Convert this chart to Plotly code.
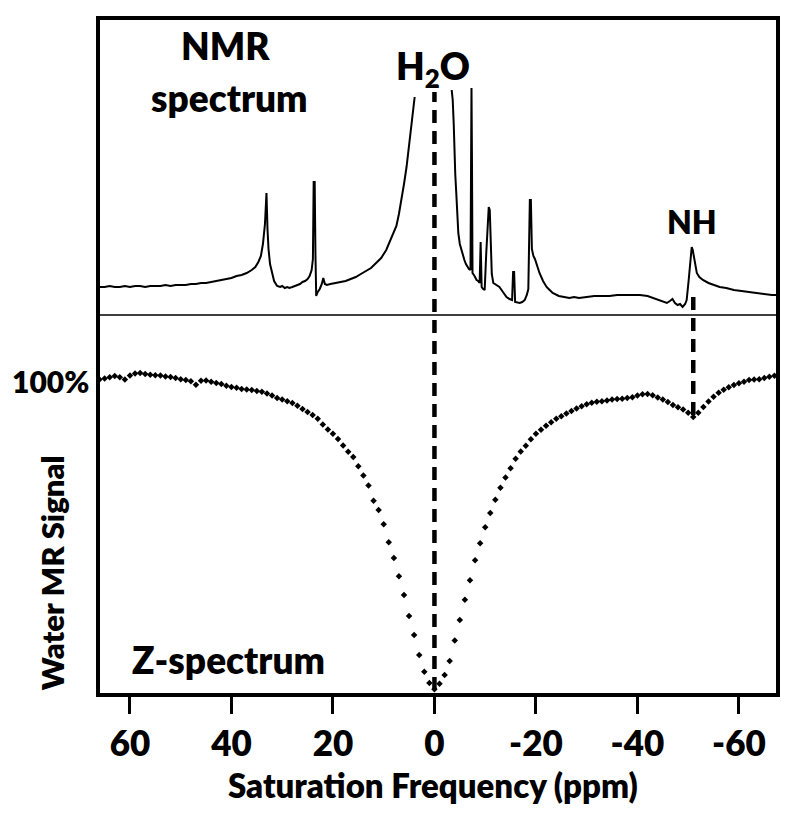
import plotly.graph_objects as go

# ---------------- data ----------------
# NMR spectrum (top panel): chemical shift (ppm) and intensity (arb. units); None = clipped water peak
nmr_ppm = [66.3, 65, 64, 63, 62, 61, 60, 59, 58, 57, 56, 55, 54, 53, 52, 51, 50, 49, 48, 47, 46, 45,
           44, 43, 42, 41, 40, 39, 38, 37, 36, 35.3, 34.7, 34.2, 33.8, 33.4, 33.1, 32.9, 32.7, 32.4,
           32.0, 31.6, 31.0, 30.4, 30, 29.5, 29, 28.6, 28, 27.5, 27, 26.5, 26, 25.5, 25, 24.6, 24.2,
           23.95, 23.8, 23.6, 23.45, 23.3, 23.0, 22.6, 22.2, 21.9, 21.6, 21.2, 20.5, 19.5, 18.5, 17.5,
           16.5, 15.5, 14.5, 13.5, 12.5, 11.5, 10.5, 9.5, 8.9, 8.2, 7.5, 7.0, 6.5, 6.0, 5.5, 5.2, 4.9,
           4.6, 4.3, 4.1, 3.9, None,
           -3.4, -3.6, -3.8, -3.9, -4.1, -4.3, -4.5, -4.7, -5.0, -5.3, -5.6, -5.9, -6.2, -6.5, -6.8,
           -7.1, -7.2, -7.3, -7.4, -7.5, -7.9, -8.3, -8.6, -8.9, -9.0, -9.1, -9.2, -9.3, -9.6, -9.9,
           -10.2, -10.5, -10.7, -10.9, -11.1, -11.3, -11.6, -12.2, -12.8, -13.5, -14.2, -14.8, -15.3,
           -15.5, -15.7, -15.9, -16.4, -16.8, -17.3, -17.8, -18.2, -18.5, -18.8, -19.0, -19.2, -19.5,
           -19.8, -20.2, -20.7, -21.4, -22.1, -22.7, -23.3, -24.5, -25.5, -26.6, -27.5, -28.5, -30,
           -31.5, -33.1, -34.5, -36, -37.5, -39, -40.5, -42, -43, -44, -45, -45.8, -46.4, -46.9,
           -47.4, -47.9, -48.4, -48.9, -49.4, -49.7, -50.1, -50.4, -50.7, -50.9, -51.1, -51.4, -51.7,
           -52.2, -52.9, -54, -55, -56.2, -57.5, -59, -60.5, -62, -63.5, -65, -66.5, -67.7]
nmr_int = [27, 27, 28, 27, 27, 28, 27, 28, 28, 27, 28, 28, 28, 29, 28, 29, 29, 29, 30, 30, 31, 31,
           32, 33, 34, 35, 36, 38, 39, 41, 44, 47, 52, 58, 70, 90, 121, 85, 65, 50,
           40, 33, 28, 27, 28, 26, 27, 26, 27, 28, 29, 30, 32, 33, 35, 38, 44,
           55, 132, 132, 60, 18, 22, 25, 30, 36, 30, 29, 30, 31, 32, 33,
           35, 37, 40, 43, 46, 51, 56, 64, 71, 79, 88, 100, 114, 130, 147, 160, 174,
           186, 197, 207, 217, None,
           224, 214, 190, 167, 140, 121, 100, 81, 70, 64, 58, 54, 50, 47, 45,
           44, 150, 226, 150, 41, 38, 34, 33, 31, 50, 72, 50, 27, 25, 24,
           60, 97, 107, 104, 60, 40, 31, 29, 27, 22, 17, 15, 14,
           42, 42, 12, 11, 11, 12, 14, 19, 25, 114, 114, 65, 58,
           55, 48, 41, 33, 27, 24, 21, 18, 17, 16, 17, 16, 17,
           18, 18, 18, 19, 19, 19, 19, 18, 16, 14, 12, 11, 13, 15,
           11, 9, 10, 7, 10, 14, 34, 55, 67, 64, 57, 48, 41,
           37, 34, 31, 29, 27, 26, 24, 23, 22, 21, 20, 19, 19]

# Z-spectrum (bottom panel): saturation offset (ppm) and water signal (%)
z_ppm = list(range(66, -68, -1))
z_signal = [100.5, 100.8, 101.2, 101.6, 101.2, 100.5, 101.8, 102.4, 102.6, 102.3, 102.0, 101.9,
            101.8, 101.5, 101.3, 101.0, 100.6, 100.3, 99.9, 98.8, 100.1, 100.2, 99.8, 99.4, 99.0,
            98.5, 98.1, 97.8, 97.4, 97.3, 97.1, 96.8, 96.5, 96.0, 95.3, 94.5, 94.0, 93.5, 92.9,
            92.0, 91.0, 90.0, 89.0, 87.8, 86.0, 84.4, 83.0, 81.3, 79.2, 77.2, 75.5, 72.5, 69.5,
            66.3, 61.4, 58.4, 53.8, 48.0, 42.9, 37.0, 31.0, 24.2, 18.1, 11.6, 6.2, 2.6, 0.6,
            2.3, 5.2, 9.7, 16.3, 22.9, 29.4, 35.7, 42.2, 47.7, 52.8, 57.4, 61.7, 65.6, 68.9,
            71.9, 74.9, 77.3, 79.1, 81.2, 83.0, 84.3, 85.6, 86.7, 87.8, 88.6, 89.5, 90.3, 91.1,
            91.9, 92.5, 93.0, 93.3, 93.5, 93.7, 94.0, 94.2, 94.3, 94.5, 94.8, 95.3, 95.7, 95.8,
            95.4, 94.7, 94.0, 93.2, 92.3, 91.5, 90.8, 89.8, 88.4, 89.8, 91.6, 93.4, 94.9, 96.2,
            97.2, 98.0, 98.7, 99.3, 99.8, 100.3, 100.5, 100.6, 101.0, 101.4, 101.7]

x_ticks = [60, 40, 20, 0, -20, -40, -60]
x_tick_labels = ["60", "40", "20", "0", "-20", "-40", "-60"]
h2o_ppm = 0
nh_ppm = -51

# ---------------- figure ----------------
FONT = "Lato, 'Open Sans', Arial, sans-serif"
W = 800
split = 0.5613

fig = go.Figure()
fig.add_trace(go.Scatter(x=nmr_ppm, y=nmr_int, mode="lines", xaxis="x", yaxis="y2",
                         line=dict(color="black", width=2), connectgaps=False,
                         hoverinfo="skip", showlegend=False))
fig.add_trace(go.Scatter(x=z_ppm, y=z_signal, mode="markers", xaxis="x", yaxis="y",
                         marker=dict(color="black", size=5, symbol="diamond"),
                         hoverinfo="skip", showlegend=False))

fig.update_layout(
    width=798, height=822, autosize=False,
    margin=dict(l=98, r=20, t=18, b=127),
    paper_bgcolor="white", plot_bgcolor="white",
    font=dict(family=FONT, color="black", weight=W),
    xaxis=dict(range=[66.3, -67.7], anchor="y", showgrid=False, zeroline=False,
               showline=False, ticks="outside", ticklen=18, tickwidth=3, tickcolor="black",
               tickvals=x_ticks, ticktext=x_tick_labels,
               tickfont=dict(family=FONT, size=35, color="black", weight=W)),
    yaxis=dict(domain=[0, split], range=[-1.29, 121.3], showgrid=False, zeroline=False,
               showline=False, showticklabels=False, ticks=""),
    yaxis2=dict(domain=[split, 1], range=[-1, 296], anchor="x", showgrid=False,
                zeroline=False, showline=False, showticklabels=False, ticks=""),
)

# frame and divider
fig.add_shape(type="rect", xref="paper", yref="paper", x0=0, x1=1, y0=0, y1=1,
              line=dict(color="black", width=4), layer="above")
fig.add_shape(type="line", xref="paper", yref="paper", x0=0, x1=1, y0=split, y1=split,
              line=dict(color="black", width=1.5), layer="above")
# dashed guide lines
fig.add_shape(type="line", xref="x", yref="paper", x0=h2o_ppm, x1=h2o_ppm, y0=0.0074, y1=0.8907,
              line=dict(color="black", width=4.5, dash="13px,8px"))
fig.add_shape(type="line", xref="x", yref="paper", x0=nh_ppm, x1=nh_ppm, y0=0.4136, y1=0.5953,
              line=dict(color="black", width=4.5, dash="13px,8px"))

def note(text, x, y, size, xanchor="center", xref="paper", yref="paper", angle=0):
    fig.add_annotation(text=text, x=x, y=y, xref=xref, yref=yref, showarrow=False,
                       xanchor=xanchor, yanchor="middle", textangle=angle,
                       font=dict(family=FONT, size=size, color="black", weight=W))

note("NMR", 0.188, 0.960, 37)
note("spectrum", 0.193, 0.883, 37)
note("H<sub>2</sub>O", 0.493, 0.926, 37)
note("NH", 0.8735, 0.6987, 32)
note("Z-spectrum", 0.192, 0.0517, 37)
note("100%", -0.0103, 100, 30, xanchor="right", yref="y")
note("Water MR Signal", -0.0676, 0.180, 31, angle=-90)
note("Saturation Frequency (ppm)", 0.4926, -0.133, 33)

fig.write_html("out.html", config={"displayModeBar": False},
               post_script="document.body.style.margin='0';document.body.style.overflow='hidden';")
